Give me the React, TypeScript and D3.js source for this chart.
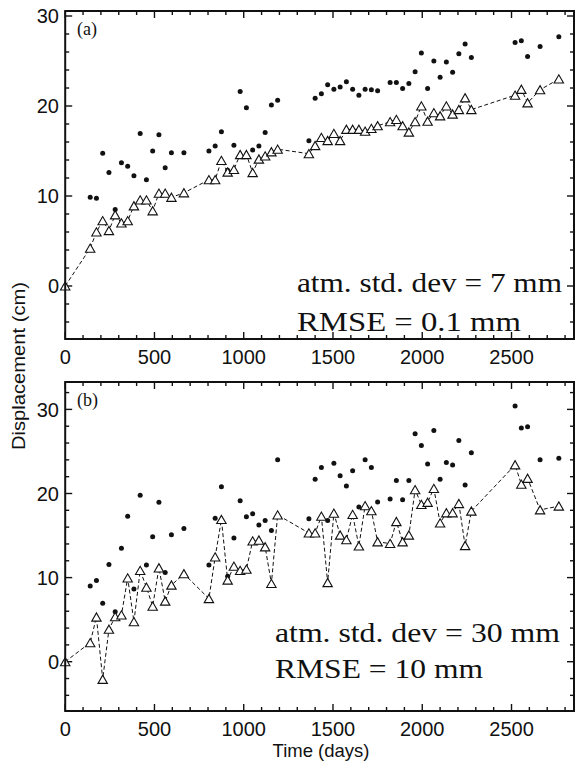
import React from "react";
import * as d3 from "d3";

// Acquisition times (days)
const days = [0,140,175,210,245,280,315,350,385,420,455,490,525,560,595,665,805,840,875,910,945,980,1015,1050,1085,1120,1155,1190,1365,1400,1435,1470,1505,1540,1575,1610,1645,1680,1715,1750,1820,1855,1890,1925,1960,1995,2030,2065,2100,2135,2170,2205,2240,2275,2520,2555,2590,2660,2765];

// Panel (a): noisy observations (dots) and estimates (triangles), cm
const noisyA = [0,9.85,9.75,14.75,12.6,8.5,13.7,13.3,12.25,16.95,11.8,15.0,16.8,13.15,14.8,14.8,15.0,15.55,17.15,12.85,15.65,21.6,19.8,15.1,15.55,17.05,20.1,20.65,16.15,20.85,21.35,22.35,21.85,22.1,22.7,21.85,21.2,21.85,21.8,21.7,22.6,22.6,21.95,22.5,23.8,25.9,21.95,25.0,23.2,24.9,23.75,25.8,26.9,25.4,27.05,27.25,25.5,26.6,27.7];
const estA = [0,4.2,6.0,7.25,6.15,7.9,7.0,7.25,8.9,9.55,9.55,8.35,10.3,10.3,9.85,10.35,11.8,11.8,13.95,12.65,12.95,14.6,14.6,12.6,14.1,14.45,14.9,15.2,14.7,15.6,16.5,16.15,16.95,16.15,17.4,17.4,17.4,17.2,17.5,17.8,18.25,18.5,17.8,17.1,18.25,20.0,18.3,19.25,18.9,20.0,19.1,19.6,20.9,19.6,21.2,21.85,20.35,21.8,23.0];

// Panel (b)
const noisyB = [0,9.0,9.65,6.95,11.55,5.95,13.5,17.3,8.65,19.8,11.5,14.85,18.95,10.6,15.1,15.85,11.5,17.05,20.8,10.15,14.7,19.15,17.25,17.6,16.25,16.8,15.6,24.0,17.0,21.7,23.1,16.8,23.6,22.1,20.9,22.7,18.4,24.0,23.1,19.0,19.35,21.55,19.25,21.55,27.1,25.7,23.5,27.5,21.7,23.7,23.4,26.3,21.0,24.85,30.4,27.8,27.95,24.0,24.2];
const estB = [0,2.26,5.3,-2.1,3.85,5.35,5.55,9.95,4.75,10.85,8.85,6.6,11.15,7.2,9.1,10.45,7.5,12.45,16.9,9.7,11.35,10.85,11.0,14.35,14.45,13.65,9.3,17.45,15.3,15.3,17.3,9.4,17.65,15.05,14.5,17.5,13.75,18.55,17.95,14.25,14.05,16.65,14.25,15.05,20.45,18.7,18.95,20.6,16.5,17.7,17.7,18.8,13.8,17.9,23.4,21.1,21.8,18.05,18.5];

const xMajorTicks = [0, 500, 1000, 1500, 2000, 2500];
const yMajorTicks = [0, 10, 20, 30];
const panelLabels = ["(a)", "(b)"];
const notesA = ["atm. std. dev = 7 mm", "RMSE = 0.1 mm"];
const notesB = ["atm. std. dev = 30 mm", "RMSE = 10 mm"];

const LEFT = 65.2;
const RIGHT = 574;
const SANS = "'Liberation Sans', Arial, Helvetica, sans-serif";
const SERIF = "'Liberation Serif', 'Times New Roman', serif";

type PanelProps = {
  top: number;
  bottom: number;
  yDomain: [number, number];
  noisy: number[];
  est: number[];
  label: string;
  notes: string[];
  noteX: number;
  noteY: number[];
  noteW: number[];
};

function Panel({ top, bottom, yDomain, noisy, est, label, notes, noteX, noteY, noteW }: PanelProps) {
  const x = d3.scaleLinear().domain([0, 2850]).range([LEFT, RIGHT]);
  const y = d3.scaleLinear().domain(yDomain).range([bottom, top]);
  const xMinor = d3.range(0, 2801, 100);
  const yMinor = d3.range(-4, yDomain[1], 2);
  const line = d3
    .line<number>()
    .x((_, i) => x(days[i]))
    .y((d) => y(d));
  const tri = (cx: number, cy: number) =>
    `M${cx - 4.7},${cy + 4}L${cx + 4.7},${cy + 4}L${cx},${cy - 4.2}Z`;
  return (
    <g>
      {xMinor.map((t) => {
        const major = t % 500 === 0;
        const len = major ? 7 : 4;
        return (
          <g key={"xt" + t} stroke="#111" strokeWidth={1.4}>
            <line x1={x(t)} x2={x(t)} y1={bottom} y2={bottom - len} />
            <line x1={x(t)} x2={x(t)} y1={top} y2={top + len} />
          </g>
        );
      })}
      {yMinor.map((t) => {
        const major = t % 10 === 0;
        const len = major ? 7 : 4;
        return (
          <g key={"yt" + t} stroke="#111" strokeWidth={1.4}>
            <line x1={LEFT} x2={LEFT + len} y1={y(t)} y2={y(t)} />
            <line x1={RIGHT} x2={RIGHT - len} y1={y(t)} y2={y(t)} />
          </g>
        );
      })}
      {xMajorTicks.map((t) => (
        <text key={"xl" + t} x={x(t)} y={bottom + 25} textAnchor="middle" fontFamily={SANS} fontSize={20} fill="#111">
          {t}
        </text>
      ))}
      {yMajorTicks.map((t) => (
        <text key={"yl" + t} x={59} y={y(t)} dy="0.36em" textAnchor="end" fontFamily={SANS} fontSize={20} fill="#111">
          {t}
        </text>
      ))}
      {noisy.map((v, i) => (
        <circle key={"d" + i} cx={x(days[i])} cy={y(v)} r={2.5} fill="#111" />
      ))}
      <path d={line(est) || ""} fill="none" stroke="#111" strokeWidth={1} strokeDasharray="4,2.5" />
      {est.map((v, i) => (
        <path key={"t" + i} d={tri(x(days[i]), y(v))} fill="#fff" stroke="#111" strokeWidth={1.1} />
      ))}
      <rect x={LEFT} y={top} width={RIGHT - LEFT} height={bottom - top} fill="none" stroke="#111" strokeWidth={2} />
      <text x={77} y={top + 24} fontFamily={SERIF} fontSize={18} fill="#111">
        {label}
      </text>
      {notes.map((s, i) => (
        <text
          key={"n" + i}
          x={noteX}
          y={noteY[i]}
          fontFamily={SERIF}
          fontSize={28}
          textLength={noteW[i]}
          lengthAdjust="spacingAndGlyphs"
          fill="#111"
        >
          {s}
        </text>
      ))}
    </g>
  );
}

export default function App() {
  return (
    <svg
      width={577}
      height={764}
      viewBox="0 0 577 764"
      style={{ position: "absolute", left: 0, top: 0, background: "#fff" }}
    >
      <rect x={0} y={0} width={577} height={764} fill="#fff" />
      <Panel
        top={11}
        bottom={339}
        yDomain={[-5.889, 30.556]}
        noisy={noisyA}
        est={estA}
        label={panelLabels[0]}
        notes={notesA}
        noteX={297}
        noteY={[292, 331]}
        noteW={[265, 224]}
      />
      <Panel
        top={382}
        bottom={711}
        yDomain={[-5.862, 33.258]}
        noisy={noisyB}
        est={estB}
        label={panelLabels[1]}
        notes={notesB}
        noteX={275}
        noteY={[642, 678]}
        noteW={[285, 208]}
      />
      <text
        transform="translate(25,366) rotate(-90)"
        textAnchor="middle"
        fontFamily={SANS}
        fontSize={19}
        textLength={168}
        lengthAdjust="spacingAndGlyphs"
        fill="#111"
      >
        Displacement (cm)
      </text>
      <text x={321} y={757} textAnchor="middle" fontFamily={SANS} fontSize={18.5} fill="#111">
        Time (days)
      </text>
    </svg>
  );
}
